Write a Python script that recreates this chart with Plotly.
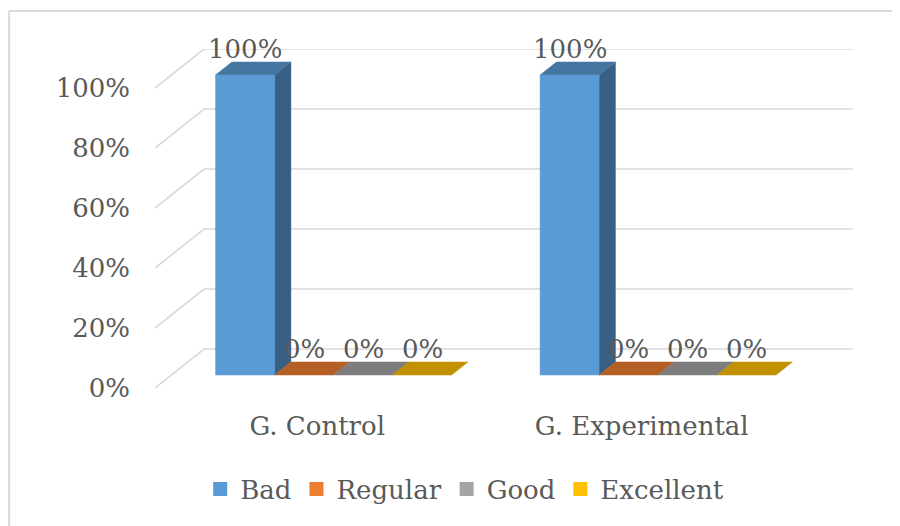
import plotly.graph_objects as go

# ---------------- data ----------------
categories = ["G. Control", "G. Experimental"]
series_names = ["Bad", "Regular", "Good", "Excellent"]
bad = [1.0, 1.0]
regular = [0.0, 0.0]
good = [0.0, 0.0]
excellent = [0.0, 0.0]
y_ticks = [0.0, 0.2, 0.4, 0.6, 0.8, 1.0]
y_tick_labels = ["0%", "20%", "40%", "60%", "80%", "100%"]

series_values = [bad, regular, good, excellent]
base_colors = ["#5B9BD5", "#ED7D31", "#A5A5A5", "#FFC000"]

# ---------------- 3D (oblique) geometry ----------------
DX = 0.151   # depth shift in x (category units)
DY = 0.13    # depth shift in y (value units)
Z1, Z2 = 1 / 3, 2 / 3
BAR_W = 1 / (len(series_names) + 1.5)
SIDE_GAP = 0.75 * BAR_W
FONT = "DejaVu Serif"
FS = 26
TXT = "#595959"
GRID = "#D9D9D9"


def shade(hex_color, f):
    h = hex_color.lstrip("#")
    r, g, b = (int(h[i:i + 2], 16) for i in (0, 2, 4))
    return "#%02X%02X%02X" % (int(r * f), int(g * f), int(b * f))


fig = go.Figure()

# gridlines on back wall and left side wall
x_left = -0.5
x_right = len(categories) - 0.5
for v in y_ticks:
    fig.add_trace(go.Scatter(
        x=[x_left, x_left + DX, x_right + DX],
        y=[v, v + DY, v + DY],
        mode="lines", line=dict(color=GRID, width=1.6),
        hoverinfo="skip", showlegend=False))


def poly(xs, ys, color):
    fig.add_trace(go.Scatter(
        x=xs + [xs[0]], y=ys + [ys[0]], mode="lines", fill="toself",
        fillcolor=color, line=dict(color=color, width=0.5),
        hoverinfo="skip", showlegend=False))


annotations = []
for ci, cat in enumerate(categories):
    for si, name in enumerate(series_names):
        v = series_values[si][ci]
        col = base_colors[si]
        x0 = ci - 0.5 + SIDE_GAP + si * BAR_W
        x1 = x0 + BAR_W
        fx0, fx1 = x0 + Z1 * DX, x1 + Z1 * DX
        bx0, bx1 = x0 + Z2 * DX, x1 + Z2 * DX
        fy, by = Z1 * DY, Z2 * DY
        if v > 0:
            poly([fx1, bx1, bx1, fx1], [fy, by, v + by, v + fy], shade(col, 0.62))
        poly([fx0, fx1, bx1, bx0], [v + fy, v + fy, v + by, v + by], shade(col, 0.76))
        if v > 0:
            poly([fx0, fx1, fx1, fx0], [fy, fy, v + fy, v + fy], col)
        annotations.append(dict(
            x=(fx0 + fx1) / 2, y=v + by, xref="x", yref="y",
            text=f"{v:.0%}", showarrow=False, yanchor="bottom", yshift=-4,
            font=dict(family=FONT, size=FS, color=TXT)))

# legend entries
for name, col in zip(series_names, base_colors):
    fig.add_trace(go.Scatter(
        x=[None], y=[None], mode="markers", name=name,
        marker=dict(symbol="square", size=14, color=col)))

# outer chart border (top and left edges visible)
shapes = [
    dict(type="line", xref="paper", yref="paper", x0=-0.209, x1=-0.209,
         y0=-0.41, y1=1.112, line=dict(color=GRID, width=2)),
    dict(type="line", xref="paper", yref="paper", x0=-0.209, x1=1.07,
         y0=1.112, y1=1.112, line=dict(color=GRID, width=2)),
]

# page body has an 8px margin: figure is 892x518, starting at (8, 8)
fig.update_layout(
    width=892, height=518,
    margin=dict(l=147, r=47, t=41, b=138),
    paper_bgcolor="white", plot_bgcolor="white",
    font=dict(family=FONT, size=FS, color=TXT),
    xaxis=dict(range=[x_left, x_right + DX], tickvals=list(range(len(categories))),
               ticktext=categories, showgrid=False, zeroline=False, showline=False,
               ticks="", ticklabelstandoff=20, fixedrange=True,
               tickfont=dict(family=FONT, size=FS, color=TXT)),
    yaxis=dict(range=[0, 1 + DY], tickvals=y_ticks, ticktext=y_tick_labels,
               showgrid=False, zeroline=False, showline=False, ticks="",
               ticklabelstandoff=24, fixedrange=True,
               tickfont=dict(family=FONT, size=FS, color=TXT)),
    showlegend=True,
    legend=dict(orientation="h", xref="container", yref="container",
                x=0.512, xanchor="center", y=0.071, yanchor="middle",
                font=dict(family=FONT, size=FS, color=TXT),
                itemclick=False, itemdoubleclick=False),
    annotations=annotations,
    shapes=shapes,
)

fig.write_html("out.html")
